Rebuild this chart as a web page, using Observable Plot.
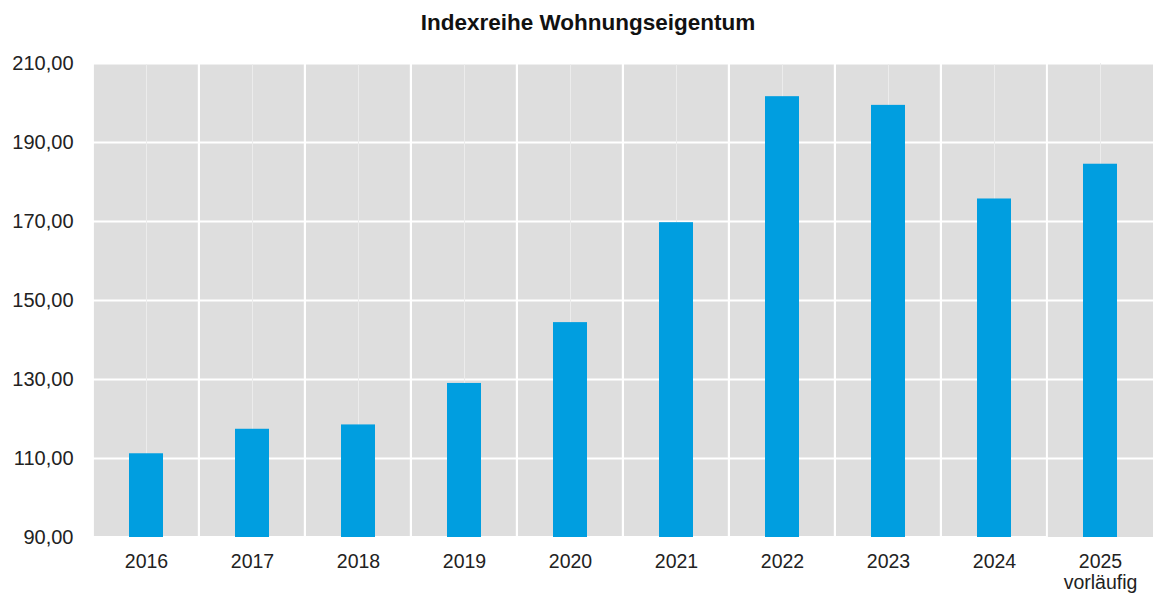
<!DOCTYPE html>
<html>
<head>
<meta charset="utf-8">
<script src="https://cdn.jsdelivr.net/npm/d3@7"></script>
<script src="https://cdn.jsdelivr.net/npm/@observablehq/plot@0.6"></script>
<style>
  html, body { margin: 0; padding: 0; background: #fff; }
  #chart { width: 1153px; height: 594px; }
  svg { display: block; }
</style>
</head>
<body>
<div id="chart"></div>
<script>
const title = "Indexreihe Wohnungseigentum";
const years = ["2016", "2017", "2018", "2019", "2020", "2021", "2022", "2023", "2024", "2025"];
const yearLabels = ["2016", "2017", "2018", "2019", "2020", "2021", "2022", "2023", "2024", "2025\nvorläufig"];
const values = [111.2, 117.4, 118.5, 129.0, 144.4, 169.7, 201.6, 199.4, 175.7, 184.5];
const yTicks = [90, 110, 130, 150, 170, 190, 210];

const data = years.map((y, i) => ({year: y, value: values[i]}));
const labelOf = new Map(years.map((y, i) => [y, yearLabels[i]]));
const fmt = d => d.toFixed(2).replace(".", ",");

const chart = Plot.plot({
  width: 1153,
  height: 594,
  marginLeft: 92,
  marginRight: 0,
  marginTop: 63,
  marginBottom: 57,
  style: {fontFamily: "Arial, 'Liberation Sans', sans-serif", fontSize: "19.5px", color: "#222", background: "#fff"},
  x: {domain: years, padding: 0, label: null},
  y: {domain: [90, 210], label: null},
  marks: [
    Plot.barY(years, {x: d => d, y1: 90, y2: 210, fill: "#dedede", stroke: "none"}),
    Plot.ruleY(yTicks.slice(1), {stroke: "#fff", strokeWidth: 2}),
    Plot.ruleX(years, {x: d => d, y1: 90, y2: 210, stroke: "#ececec", strokeWidth: 1}),
    Plot.barY(years.slice(1), {x: d => d, y1: 90, y2: 210, fill: "none", stroke: "#fff", strokeWidth: 2, insetRight: 106.1, insetLeft: -106.1}),
    Plot.barY(data, {x: "year", y1: 90, y2: "value", fill: "#009ee0", insetLeft: 36, insetRight: 36}),
    Plot.axisY({ticks: yTicks, tickFormat: fmt, tickSize: 0, tickPadding: 19, fontSize: "20px", fill: "#222"}),
    Plot.axisX({tickFormat: d => labelOf.get(d), tickSize: 0, tickPadding: 16, fontSize: "19.5px", fill: "#222", lineHeight: 1.05}),
    Plot.text([title], {frameAnchor: "top", text: d => d, dy: -49, dx: -35, fontWeight: "bold", fontSize: "22.5px", fill: "#111"})
  ]
});
document.getElementById("chart").appendChild(chart);
</script>
</body>
</html>
